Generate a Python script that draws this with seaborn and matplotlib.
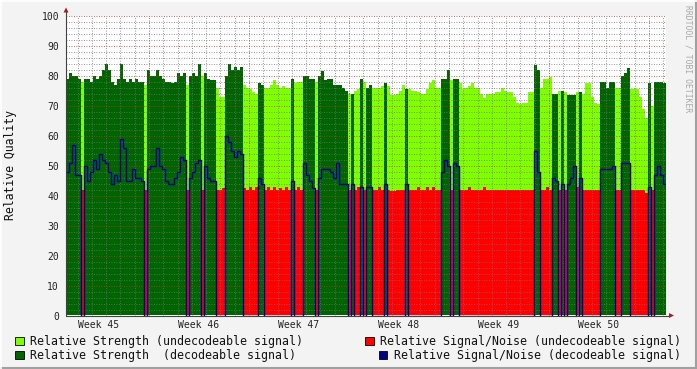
import numpy as np
import pandas as pd
import matplotlib
matplotlib.use("Agg")
import matplotlib.pyplot as plt
import seaborn as sns
from matplotlib.patches import Rectangle, Polygon
from matplotlib.lines import Line2D

# ---------------- data (one sample = 1/200 of the 6 week window) ----------------
decodeable = [
    1, 1, 1, 1, 1, 0, 1, 1, 1, 1, 1, 1, 1, 1, 1, 1, 1, 1, 1, 1,
    1, 1, 1, 1, 1, 1, 0, 1, 1, 1, 1, 1, 1, 1, 1, 1, 1, 1, 1, 1,
    0, 1, 1, 1, 1, 0, 1, 1, 1, 1, 0, 0, 0, 1, 1, 1, 1, 1, 1, 0,
    0, 0, 0, 0, 1, 1, 0, 0, 0, 0, 0, 0, 0, 0, 0, 1, 0, 0, 0, 1,
    1, 1, 1, 0, 1, 1, 1, 1, 1, 1, 1, 1, 1, 1, 0, 1, 0, 0, 1, 0,
    1, 1, 0, 0, 0, 0, 1, 0, 0, 0, 0, 0, 0, 1, 0, 0, 0, 0, 0, 0,
    0, 0, 0, 0, 0, 1, 1, 1, 0, 1, 1, 0, 0, 0, 0, 0, 0, 0, 0, 0,
    0, 0, 0, 0, 0, 0, 0, 0, 0, 0, 0, 0, 0, 0, 0, 0, 1, 1, 0, 0,
    0, 0, 1, 1, 0, 1, 0, 1, 1, 1, 0, 1, 0, 0, 0, 0, 0, 0, 1, 1,
    1, 1, 1, 0, 0, 1, 1, 1, 0, 0, 0, 0, 0, 0, 1, 0, 1, 1, 1, 1,
]

strength = [
    79, 81, 80, 80, 79, 78, 79, 79, 78, 80, 79, 80, 82, 84, 82, 78, 77, 79, 84, 79,
    78, 79, 78, 79, 78, 78, 77, 82, 80, 80, 82, 80, 79, 78, 78, 77.5, 78, 81, 80, 81,
    77, 80, 81, 80, 84, 80, 81, 79, 78.5, 78.5, 76, 73, 73, 80, 84, 82, 83, 82, 83, 77,
    76, 75.5, 74.5, 74, 77.5, 77, 76, 76, 77, 78.5, 77, 76, 76.5, 76, 76, 79, 77.5, 78, 78, 80,
    80, 79, 79, 78, 80, 81.5, 78.5, 79, 79, 77, 77, 77, 76, 75, 74, 74, 75, 75.5, 79, 78,
    76, 77, 76, 76, 76, 76.5, 77.5, 76.5, 73.5, 73.5, 74, 75, 77, 75.5, 75.5, 75, 75, 74.5, 74, 74,
    75.5, 77.5, 78.5, 76, 76, 79, 79, 82, 78.5, 79, 79, 77.5, 75.5, 76, 76.5, 77.5, 76, 76, 74, 72.5,
    74, 74, 74, 74.5, 74.5, 76, 75, 74.5, 74.5, 73, 71, 70.5, 71, 71, 74.5, 74.5, 83.5, 82, 76, 79,
    79, 79.5, 74, 74, 75, 75, 74.5, 73.5, 73.5, 73.5, 74.5, 74.5, 74, 77.5, 77.5, 73, 71, 70.5, 78, 78,
    76, 78, 78, 76, 76, 80, 81, 82.5, 75.5, 75.5, 75.5, 73, 69, 66, 77.5, 70, 78, 78, 78, 77.5,
]

snr = [
    48, 51, 57, 47, 47, 42, 50, 45, 48, 52, 49, 54, 52, 51, 48, 44, 47, 45, 59, 56,
    45, 45, 49, 46, 46, 45, 42, 49, 50, 50, 56, 50, 49, 45, 44, 44, 46, 48, 53, 52,
    42, 46, 48, 51, 52, 42, 50, 46, 45, 45, 42, 42, 42.5, 60, 58, 55, 53, 55, 54, 42.5,
    42, 43, 42, 43, 46, 44, 42, 43, 42, 43, 42, 42.5, 42, 43, 42, 45, 42, 43, 42, 51,
    47, 45, 42.5, 42, 46, 49, 49, 49, 48, 46, 51, 44, 44, 44, 42, 44, 42, 43, 43, 42,
    43, 43, 42, 42, 43, 42, 44, 42, 41.5, 41.5, 42, 42, 42, 44, 42, 42, 42, 43, 42, 42,
    43, 42, 43, 42, 42, 48, 52, 50, 42, 51, 50, 42, 42, 42, 43, 42, 42, 42, 42, 43,
    42, 42, 42, 42, 42, 42, 42, 42, 42, 42, 42, 42, 42, 42, 42, 42, 55, 48, 42, 42,
    43, 42, 46, 45, 42, 44, 42, 44, 46, 50, 43, 46, 42, 42, 42, 42, 42, 42, 49, 49,
    49, 49, 50, 42, 42, 51, 51, 51, 42, 42, 42, 42, 42, 41, 43, 42, 47, 50, 47, 44,
]

week_labels = ["Week 45", "Week 46", "Week 47", "Week 48", "Week 49", "Week 50"]
window_days = 42
first_week_start = 5.81   # days from left edge to first week boundary

legend_labels = [
    "Relative Strength (undecodeable signal)",
    "Relative Strength  (decodeable signal)",
    "Relative Signal/Noise (undecodeable signal)",
    "Relative Signal/Noise (decodeable signal)",
]

LIGHT = "#80FF00"
DARK = "#006400"
RED = "#FF0000"
BLUE = "#00008C"

# ---------------- build series ----------------
dec = np.array(decodeable, dtype=bool)
s = np.array(strength, dtype=float)
q = np.array(snr, dtype=float)
n = len(s)
t = np.arange(n + 1) * window_days / n


def ext(a):
    return np.append(a, a[-1])


df = pd.DataFrame({
    "t": t,
    "light": ext(np.where(~dec, s, 0)),
    "dark": ext(np.where(dec, s, 0)),
    "red": ext(np.where(~dec, q, 0)),
    "blue": ext(np.where(dec, q, 0)),
})

# ---------------- figure ----------------
sns.set_style("white")
plt.rcParams["font.family"] = ["DejaVu Sans Mono"]

W, H = 697, 369
fig = plt.figure(figsize=(W / 100, H / 100), dpi=100, facecolor="#F3F3F3")
ax = fig.add_axes([66 / W, (H - 315.5) / H, 600 / W, 300 / H])
ax.set_facecolor("white")

ax.fill_between(df["t"], 0, df["light"], step="post", color=LIGHT, lw=0, antialiased=False, zorder=1)
ax.fill_between(df["t"], 0, df["dark"], step="post", color=DARK, lw=0, antialiased=False, zorder=1.1)
ax.fill_between(df["t"], 0, df["red"], step="post", color=RED, lw=0, antialiased=False, zorder=1.2)
sns.lineplot(data=df, x="t", y="blue", drawstyle="steps-post", color=BLUE, lw=1.0,
             estimator=None, sort=False, ax=ax, zorder=3)

ax.set_xlim(0, window_days)
ax.set_ylim(0, 100)

# grid
ax.set_yticks(np.arange(0, 101, 10))
ax.set_yticks(np.arange(0, 101, 2), minor=True)
week_starts = first_week_start + 7 * np.arange(-1, 6)
week_centers = first_week_start - 3.5 + 7 * np.arange(len(week_labels))
days = first_week_start + np.arange(-5, 37)
days = days[(days > 0) & (days < window_days)]
ax.set_xticks(week_centers)
ax.set_xticklabels(week_labels)
ax.set_xticks(days, minor=True)

ax.set_axisbelow(False)
ax.grid(False)
ax.grid(which="minor", axis="both", color=(0.45, 0.45, 0.45, 0.32), lw=0.6, ls=(0, (1, 2)))
ax.grid(which="major", axis="y", color=(0.85, 0.15, 0.15, 0.42), lw=0.6, ls=(0, (1, 2)))
for ws in week_starts:
    if 0 < ws < window_days:
        ax.axvline(ws, color=(0.85, 0.15, 0.15, 0.42), lw=0.6, ls=(0, (1, 2)), zorder=2.6)

ax.tick_params(axis="both", which="both", length=0)
ax.tick_params(axis="y", which="major", labelsize=7, pad=5, labelcolor="#222222")
ax.tick_params(axis="x", which="major", labelsize=7, pad=3, labelcolor="#222222")
ax.set_xlabel("")
ax.set_ylabel("Relative Quality", fontsize=8.3, color="#111111")
ax.yaxis.set_label_coords(-(66 - 17) / 600, 0.5)

for sp in ax.spines.values():
    sp.set_visible(False)

# axes lines with arrows
axis_col = "#404040"
arrow_col = "#A02020"
ax.add_line(Line2D([0, 0], [0, 1.02], transform=ax.transAxes, color=axis_col, lw=0.8, clip_on=False, zorder=5))
ax.add_line(Line2D([0, 1.005], [0, 0], transform=ax.transAxes, color=axis_col, lw=0.8, clip_on=False, zorder=5))
yb = (H - 315.5) / H
fig.add_artist(Polygon([[63.5 / W, 1 - 12.5 / H], [68.5 / W, 1 - 12.5 / H], [66 / W, 1 - 7.5 / H]],
                       closed=True, transform=fig.transFigure, color=arrow_col, lw=0))
fig.add_artist(Polygon([[669 / W, yb - 2.5 / H], [669 / W, yb + 2.5 / H], [674 / W, yb]],
                       closed=True, transform=fig.transFigure, color=arrow_col, lw=0))

# legend
leg = [
    (15, 336.5, 30, 341, LIGHT, legend_labels[0]),
    (15, 350.5, 30, 355, DARK, legend_labels[1]),
    (365, 336.5, 380, 341, RED, legend_labels[2]),
    (379, 350.5, 394, 355, BLUE, legend_labels[3]),
]
for bx, by, tx, ty, col, lab in leg:
    fig.add_artist(Rectangle((bx / W, 1 - (by + 8.5) / H), 8.5 / W, 8.5 / H, transform=fig.transFigure,
                             facecolor=col, edgecolor="black", lw=0.6))
    fig.text(tx / W, 1 - ty / H, lab, fontsize=8.4, va="center", ha="left", color="#111111")

# watermark
fig.text(688 / W, 1 - 5 / H, "RRDTOOL / TOBI OETIKER", rotation=270, fontsize=5.8,
         color="#A8A8A8", ha="center", va="top")

# frame
fig.add_artist(Line2D([0, 1], [1 / H, 1 / H], transform=fig.transFigure, color="#A0A0A0", lw=1.5))
fig.add_artist(Line2D([1 - 1 / W, 1 - 1 / W], [0, 1], transform=fig.transFigure, color="#A0A0A0", lw=1.5))
fig.add_artist(Line2D([0, 1], [1 - 0.5 / H, 1 - 0.5 / H], transform=fig.transFigure, color="#FFFFFF", lw=1.2))
fig.add_artist(Line2D([0.5 / W, 0.5 / W], [0, 1], transform=fig.transFigure, color="#FFFFFF", lw=1.2))

fig.savefig("out.png", dpi=100, facecolor=fig.get_facecolor())
